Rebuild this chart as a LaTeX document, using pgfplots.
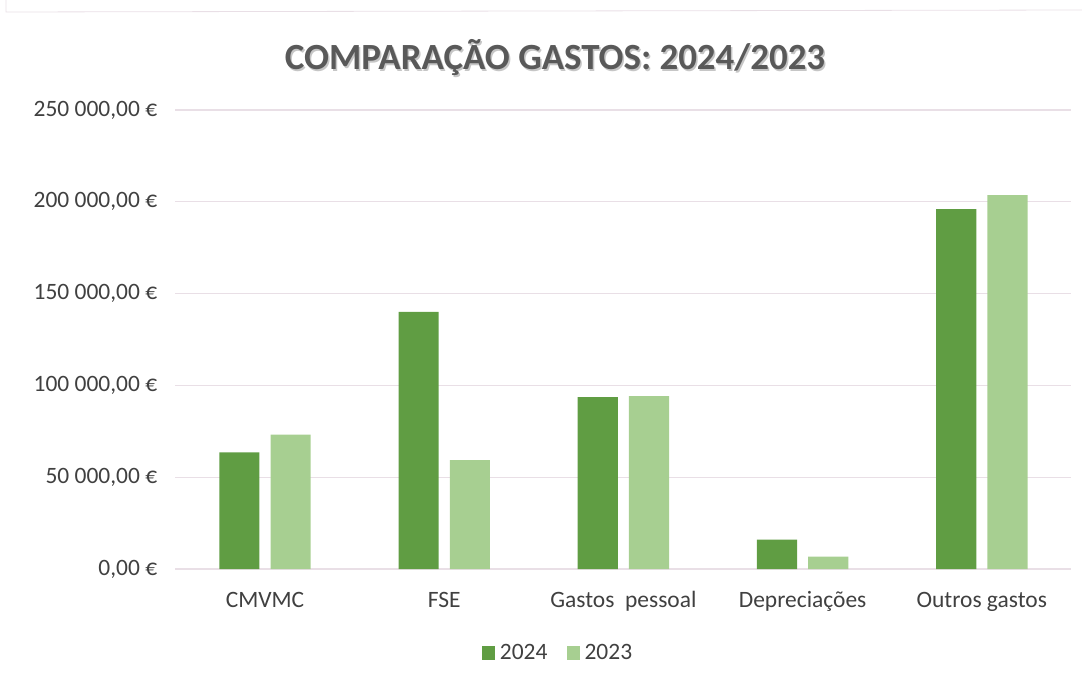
\documentclass[border=0pt]{standalone}
\usepackage{pgfplots}
\pgfplotsset{compat=1.18}
\usepackage{fontspec}
\setmainfont{Carlito}

\definecolor{g2024}{HTML}{609D43}
\definecolor{g2023}{HTML}{A7CF91}
\definecolor{gridc}{HTML}{E9DFE6}
\definecolor{txt}{HTML}{404040}
\definecolor{ttl}{HTML}{595959}

\begin{document}
\begin{tikzpicture}[x=0.75pt,y=0.75pt]
  % picture frame, 1082 x 683 px
  \useasboundingbox (0,0) rectangle (1082,683);
  \draw[gridc, line width=0.6pt] (6,683) -- (6,671) -- (1082,673);

  % title with light shadow
  \node[anchor=base, text=gray!45, font=\fontsize{27.7}{32}\selectfont\bfseries]
    at (556.5,611.5) {COMPARAÇÃO GASTOS: 2024/2023};
  \node[anchor=base, text=ttl, font=\fontsize{27.7}{32}\selectfont\bfseries]
    at (555,613) {COMPARAÇÃO GASTOS: 2024/2023};

  \begin{axis}[
      at={(131.55pt,85.5pt)}, anchor=south west,
      scale only axis,
      width=672pt, height=344.25pt,
      ymin=0, ymax=250000,
      xmin=-0.5, xmax=4.5,
      scaled y ticks=false,
      ytick={0,50000,100000,150000,200000,250000},
      yticklabels={{0,00 €}, {50 000,00 €}, {100 000,00 €}, {150 000,00 €}, {200 000,00 €}, {250 000,00 €}},
      xtick={0,1,2,3,4},
      xticklabels={CMVMC, FSE, Gastos\ \ pessoal, Depreciações, Outros gastos},
      major tick length=0pt,
      axis line style={draw=none},
      ymajorgrids,
      grid style={gridc, line width=0.8pt},
      tick label style={text=txt, font=\fontsize{17.6}{21}\selectfont},
      yticklabel style={anchor=east, inner sep=0pt, xshift=-13.5pt},
      xticklabel style={anchor=base, inner sep=0pt, yshift=-28.9pt},
      bar width=0.224,
      legend columns=2,
      legend style={draw=none, fill=none,
        at={(0.4287,-0.183)}, anchor=center,
        font=\fontsize{17.6}{21}\selectfont, text=txt,
        /tikz/every even column/.append style={column sep=11pt},
        nodes={inner sep=3.5pt}},
      legend image code/.code={\fill[#1] (0pt,-4.9pt) rectangle (9.8pt,4.9pt);},
    ]
    \addplot[ybar, bar shift=-0.143, fill=g2024, draw=none] coordinates {
      (0,63500) (1,140100) (2,93600) (3,16000) (4,196000)
    };
    \addlegendentry{2024}
    \addplot[ybar, bar shift=0.143, fill=g2023, draw=none] coordinates {
      (0,73200) (1,59300) (2,94100) (3,6700) (4,203600)
    };
    \addlegendentry{2023}
  \end{axis}
\end{tikzpicture}
\end{document}
